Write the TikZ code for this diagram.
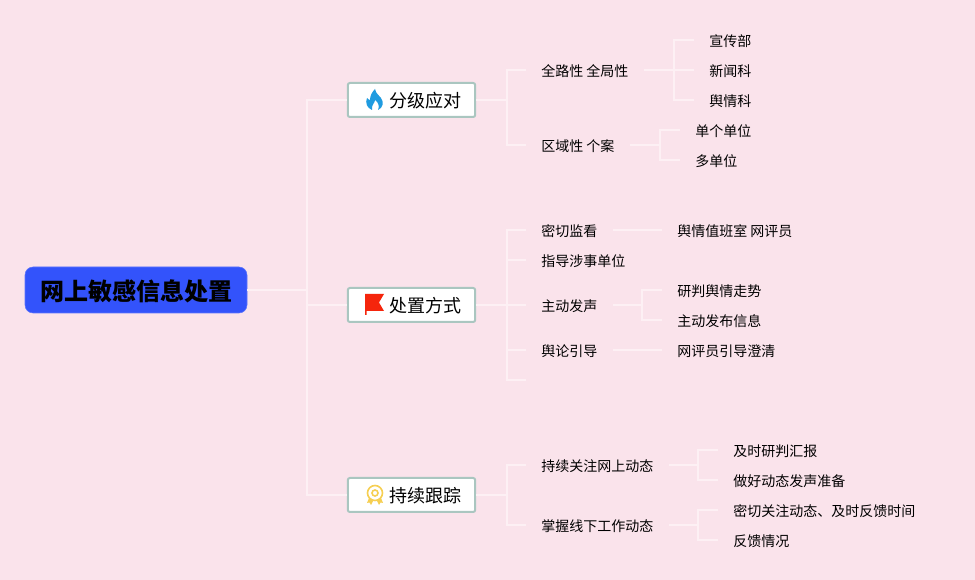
\documentclass[tikz,border=0pt]{standalone}
\usepackage{fontspec}
\setmainfont{Noto Sans CJK SC}
\definecolor{pagebg}{HTML}{FAE3EB}
\definecolor{linkcol}{HTML}{FDF0F4}
\definecolor{boxline}{HTML}{AAC6C0}
\definecolor{rootblue}{HTML}{3353FB}
\definecolor{flameblue}{HTML}{1F9BE0}
\definecolor{flagred}{HTML}{F5250C}
\definecolor{medalgold}{HTML}{F6CF52}
\tikzset{
  rootnode/.style={fill=rootblue,draw=rootblue!80!white,rounded corners=6pt,minimum width=166.5pt,minimum height=34.5pt,inner sep=0pt,text height=17pt,text depth=1pt,font=\fontsize{18}{20}\selectfont\bfseries},
  boxnode/.style={fill=white,draw=boxline,line width=1.5pt,rounded corners=1.5pt,minimum width=95.5pt,minimum height=25.5pt,inner sep=0pt,text height=13pt,text depth=1.2pt,font=\fontsize{13.5}{16}\selectfont},
  textnode/.style={anchor=west,inner xsep=11.25pt,inner ysep=0pt,text height=10.5pt,text depth=1pt,font=\fontsize{10.5}{13}\selectfont},
  link/.style={draw=linkcol,line width=1.1pt}
}
\begin{document}
\begin{tikzpicture}[x=.75pt,y=-.75pt]
  \fill[pagebg] (0,0) rectangle (975,580);
  \useasboundingbox (0,0) rectangle (975,580);
  % links go first, the boxes sit on top
  \coordinate (rootfork) at (307,290);
  \coordinate (forka) at (507,100); \coordinate (forkb) at (507,305); \coordinate (forkc) at (507,495);
  \coordinate (forkaa) at (674,70); \coordinate (forkab) at (660,145);
  \coordinate (forkbc) at (642,305);
  \coordinate (forkca) at (698,465); \coordinate (forkcb) at (698,525);
  \coordinate (stubend) at (526,380);

  \node[rootnode] (root) at (136,290) {网上敏感信息处置};
  \node[boxnode] (boxa) at (411.5,100) {\hspace*{20.25pt}分级应对};
  \node[boxnode] (boxb) at (411.5,305) {\hspace*{20.25pt}处置方式};
  \node[boxnode] (boxc) at (411.5,495) {\hspace*{20.25pt}持续跟踪};

  \node[textnode] (aa) at (526,70) {全路性 全局性};
  \node[textnode] (ab) at (526,145) {区域性 个案};
  \node[textnode] (ba) at (526,230) {密切监看};
  \node[textnode] (bb) at (526,260) {指导涉事单位};
  \node[textnode] (bc) at (526,305) {主动发声};
  \node[textnode] (bd) at (526,350) {舆论引导};
  \node[textnode] (ca) at (526,465) {持续关注网上动态};
  \node[textnode] (cb) at (526,525) {掌握线下工作动态};

  \node[textnode] (aaa) at (694,40) {宣传部};
  \node[textnode] (aab) at (694,70) {新闻科};
  \node[textnode] (aac) at (694,100) {舆情科};
  \node[textnode] (aba) at (680,130) {单个单位};
  \node[textnode] (abb) at (680,160) {多单位};
  \node[textnode] (baa) at (662,230) {舆情值班室 网评员};
  \node[textnode] (bca) at (662,290) {研判舆情走势};
  \node[textnode] (bcb) at (662,320) {主动发布信息};
  \node[textnode] (bda) at (662,350) {网评员引导澄清};
  \node[textnode] (caa) at (718,450) {及时研判汇报};
  \node[textnode] (cab) at (718,480) {做好动态发声准备};
  \node[textnode] (cba) at (718,510) {密切关注动态、及时反馈时间};
  \node[textnode] (cbb) at (718,540) {反馈情况};

  \draw[link] (root.east) -- (rootfork);
  \draw[link] (rootfork) |- (boxa.west);
  \draw[link] (rootfork) |- (boxb.west);
  \draw[link] (rootfork) |- (boxc.west);

  \draw[link] (boxa.east) -- (forka);
  \draw[link] (forka) |- (aa.west); \draw[link] (forka) |- (ab.west);
  \draw[link] (boxb.east) -- (forkb);
  \draw[link] (forkb) |- (ba.west); \draw[link] (forkb) |- (bb.west); \draw[link] (forkb) -- (bc.west);
  \draw[link] (forkb) |- (bd.west); \draw[link] (forkb) |- (stubend);
  \draw[link] (boxc.east) -- (forkc);
  \draw[link] (forkc) |- (ca.west); \draw[link] (forkc) |- (cb.west);

  \draw[link] (aa.east) -- (aab.west);
  \draw[link] (forkaa) |- (aaa.west); \draw[link] (forkaa) |- (aac.west);
  \draw[link] (ab.east) -- (forkab);
  \draw[link] (forkab) |- (aba.west); \draw[link] (forkab) |- (abb.west);
  \draw[link] (ba.east) -- (baa.west);
  \draw[link] (bc.east) -- (forkbc);
  \draw[link] (forkbc) |- (bca.west); \draw[link] (forkbc) |- (bcb.west);
  \draw[link] (bd.east) -- (bda.west);
  \draw[link] (ca.east) -- (forkca);
  \draw[link] (forkca) |- (caa.west); \draw[link] (forkca) |- (cab.west);
  \draw[link] (cb.east) -- (forkcb);
  \draw[link] (forkcb) |- (cba.west); \draw[link] (forkcb) |- (cbb.west);

  % icons
  \fill[flameblue] (375,89) .. controls (376,94) and (379,95) .. (381,98) .. controls (384,102) and (383,108) .. (378,110) .. controls (380,106) and (378,102) .. (375,100) .. controls (375,103) and (371,105) .. (372,110) .. controls (367,108) and (365,103) .. (367,98) .. controls (368,99) and (369,100) .. (370,100) .. controls (370,96) and (372,92) .. (375,89) -- cycle;
  \fill[flagred] (365,294) -- (384,294) -- (379,302.5) -- (384,311) -- (366.5,311) -- (366.5,315) -- (365,315) -- cycle;
  \draw[medalgold,line width=1.2pt] (375,493) circle (7.5);
  \draw[medalgold,line width=1.2pt] (375,493) circle (3);
  \fill[medalgold] (369,498) -- (373,501) -- (371,505) -- (369.5,502.5) -- (367,503) -- cycle;
  \fill[medalgold] (381,498) -- (377,501) -- (379,505) -- (380.5,502.5) -- (383,503) -- cycle;
\end{tikzpicture}
\end{document}
